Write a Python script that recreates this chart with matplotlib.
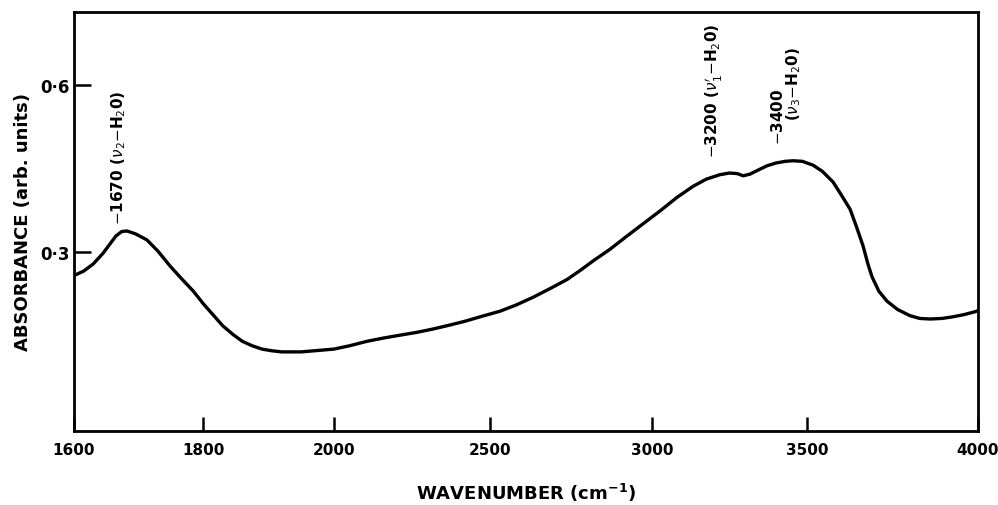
#!/usr/bin/python3

import numpy as np
import matplotlib
matplotlib.use("Agg")
import matplotlib.pyplot as plt

# spectrum (wavenumber in cm-1, absorbance in arb. units)
wavenumber = [1600, 1615, 1630, 1645, 1656, 1665, 1674, 1682, 1695, 1713,
              1730, 1749, 1767, 1785, 1800, 1815, 1830, 1846, 1860, 1875,
              1890, 1905, 1920, 1935, 1950, 1970, 2000, 2050, 2106, 2160,
              2212, 2265, 2317, 2370, 2420, 2475, 2531, 2580, 2633, 2690,
              2738, 2778, 2820, 2870, 2923, 2975, 3026, 3080, 3132, 3175,
              3219, 3250, 3275, 3294, 3316, 3345, 3371, 3400, 3430, 3455,
              3485, 3518, 3545, 3576, 3600, 3626, 3645, 3664, 3678, 3690,
              3710, 3734, 3765, 3801, 3830, 3860, 3895, 3927, 3960, 3991,
              4000]
absorbance = [0.258, 0.266, 0.279, 0.298, 0.315, 0.329, 0.337, 0.338, 0.333, 0.322,
              0.302, 0.275, 0.252, 0.230, 0.208, 0.188, 0.168, 0.152, 0.140, 0.132,
              0.126, 0.123, 0.121, 0.121, 0.121, 0.123, 0.126, 0.132, 0.140, 0.146,
              0.151, 0.156, 0.162, 0.169, 0.176, 0.185, 0.194, 0.205, 0.219, 0.236,
              0.251, 0.267, 0.285, 0.305, 0.329, 0.352, 0.374, 0.398, 0.418, 0.431,
              0.439, 0.442, 0.441, 0.437, 0.440, 0.448, 0.455, 0.460, 0.463, 0.464,
              0.463, 0.456, 0.445, 0.426, 0.403, 0.377, 0.345, 0.311, 0.279, 0.256,
              0.230, 0.212, 0.197, 0.186, 0.181, 0.180, 0.181, 0.184, 0.188, 0.193,
              0.195]

xticks = [1600, 1800, 2000, 2500, 3000, 3500, 4000]
yticks = [0.3, 0.6]
ytick_labels = ["0·3", "0·6"]

# peak notes: (wavenumber, height of the lower end, text)
notes = [
    (1670, 0.350, r"$-$1670 ($\nu_2$$-$H$_2$0)"),
    (3200, 0.471, r"$-$3200 ($\nu_1^{\prime}$$-$H$_2$0)"),
    (3405, 0.494, r"$-$3400"),
    (3458, 0.538, r"($\nu_3$$-$H$_2$0)"),
]

# chart paper: the scale changes at 2000 cm-1 and is not quite even above it
scale_wn = [1600, 1800, 2000, 2500, 3000, 3500, 4000]
scale_pos = [74, 203, 334, 490, 652, 807, 978]


def forward(x):
    return np.interp(x, scale_wn, scale_pos)


def inverse(p):
    return np.interp(p, scale_pos, scale_wn)


plt.rcParams['font.family'] = ['DejaVu Sans']
plt.rcParams['mathtext.fontset'] = 'dejavusans'

fig = plt.figure(figsize=(9.98, 5.06), dpi=100)
ax = fig.add_axes([74 / 998, 1 - 432 / 506, (978 - 74) / 998, (432 - 13) / 506])

ax.plot(wavenumber, absorbance, color="black", lw=2.4,
        solid_capstyle="round", solid_joinstyle="round")

ax.set_xscale("function", functions=(forward, inverse))
ax.set_xlim(1600, 4000)
ax.set_ylim(-0.021, 0.731)

ax.set_xticks(xticks)
ax.set_xticklabels([str(t) for t in xticks], fontsize=11, fontweight="bold")
ax.set_yticks(yticks)
ax.set_yticklabels(ytick_labels, fontsize=12, fontweight="bold")
ax.xaxis.set_minor_locator(matplotlib.ticker.NullLocator())
ax.tick_params(axis="x", direction="in", length=10, width=1.8, pad=8)
ax.tick_params(axis="y", direction="in", length=12, width=1.8, pad=3)

for s in ax.spines.values():
    s.set_linewidth(2.0)

ax.set_xlabel(r"WAVENUMBER (cm$^{\mathbf{-1}}$)", fontsize=13, fontweight="bold")
ax.xaxis.set_label_coords(0.5, -0.12)
ax.set_ylabel("ABSORBANCE (arb. units)", fontsize=13, fontweight="bold",
              labelpad=6)

for wn, h, lab in notes:
    ax.text(wn, h, lab, rotation=90, ha="center", va="bottom",
            fontsize=11, fontweight="bold")

fig.savefig("out.png", dpi=100)
